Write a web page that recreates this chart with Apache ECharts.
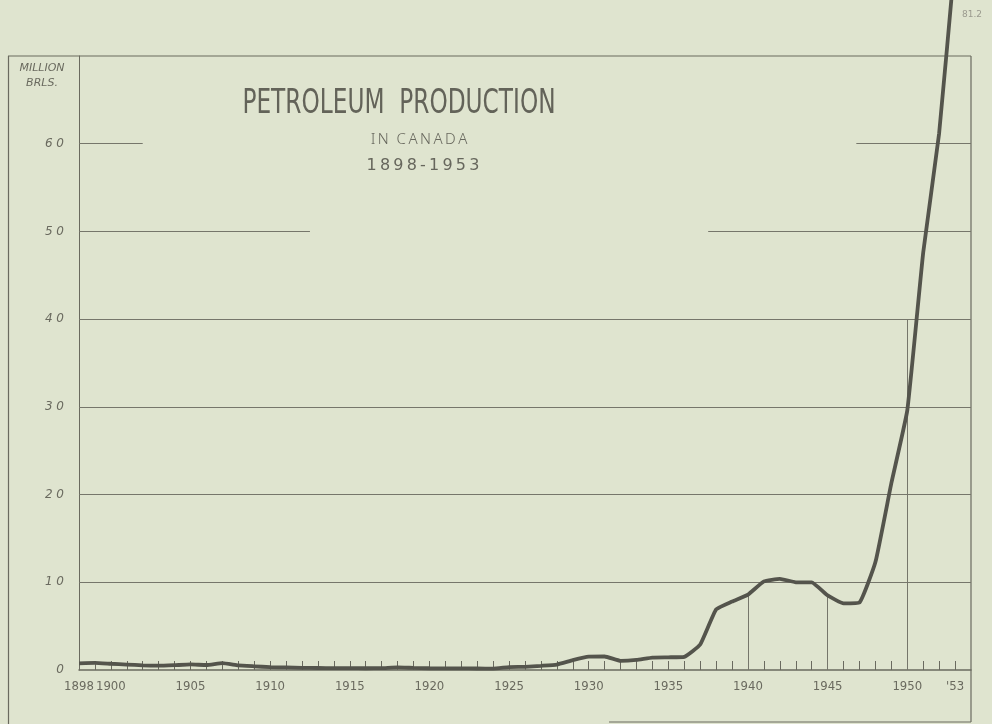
<!DOCTYPE html>
<html>
<head>
<meta charset="utf-8">
<script src="https://cdn.jsdelivr.net/npm/echarts@6/dist/echarts.min.js"></script>
<style>
  html, body { margin: 0; padding: 0; background: #dfe4cf; }
  #chart { width: 992px; height: 724px; }
</style>
</head>
<body>
<div id="chart"></div>
<script>
// petroleum production in Canada, million barrels
var years = [1898, 1899, 1900, 1901, 1902, 1903, 1904, 1905, 1906, 1907,
  1908, 1909, 1910, 1911, 1912, 1913, 1914, 1915, 1916, 1917,
  1918, 1919, 1920, 1921, 1922, 1923, 1924, 1925, 1926, 1927,
  1928, 1929, 1930, 1931, 1932, 1933, 1934, 1935, 1936, 1937,
  1938, 1939, 1940, 1941, 1942, 1943, 1944, 1945, 1946, 1947,
  1948, 1949, 1950, 1951, 1952, 1953]
var production = [0.76, 0.81, 0.71, 0.62, 0.53, 0.49, 0.55, 0.63, 0.57, 0.79,
  0.53, 0.42, 0.32, 0.29, 0.24, 0.23, 0.21, 0.22, 0.20, 0.21,
  0.30, 0.24, 0.20, 0.19, 0.18, 0.17, 0.16, 0.33, 0.36, 0.48,
  0.62, 1.12, 1.52, 1.54, 1.04, 1.15, 1.42, 1.45, 1.50, 2.90,
  6.90, 7.80, 8.60, 10.1, 10.4, 10.0, 10.0, 8.50, 7.60, 7.70,
  12.3, 21.3, 29.6, 47.6, 61.2, 81.2]
var labelYears = [1898, 1900, 1905, 1910, 1915, 1920, 1925, 1930, 1935, 1940, 1945, 1950, 1953]
var dropYears = [1940, 1945, 1950]
var gridValues = [10, 20, 30, 40]
var lastValueText = '81.2'

var ink = '#6a6a5f'
var lineInk = '#54544c'

var points = years.map(function (y, i) { return [y, production[i]] })
var tickYears = years.filter(function (y) { return y > 1898 && dropYears.indexOf(y) < 0 })

var dropLines = dropYears.map(function (y) {
  var v = production[years.indexOf(y)]
  if (y === 1950) v = 40
  return [{ coord: [y, 0] }, { coord: [y, v] }]
})
var hLines = gridValues.map(function (v) { return { yAxis: v } })
// broken upper rules, as in the scan
var partLines = [
  [{ coord: [1898, 50] }, { coord: [1912.5, 50] }],
  [{ coord: [1937.5, 50] }, { coord: [1954, 50] }],
  [{ coord: [1898, 60] }, { coord: [1902, 60] }],
  [{ coord: [1946.8, 60] }, { coord: [1954, 60] }]
]

var chart = echarts.init(document.getElementById('chart'))
chart.setOption({
  backgroundColor: '#dfe4cf',
  animation: false,
  grid: { left: 79, right: 21, top: 56, bottom: 54 },
  xAxis: {
    type: 'value',
    min: 1898,
    max: 1954,
    splitLine: { show: false },
    axisLine: { show: true, lineStyle: { color: ink, width: 1.5 } },
    axisTick: {
      show: true, inside: true, length: 9, customValues: tickYears,
      lineStyle: { color: ink, width: 1 }
    },
    axisLabel: {
      customValues: labelYears,
      showMinLabel: true,
      margin: 10,
      color: ink,
      fontFamily: 'DejaVu Sans Condensed, DejaVu Sans',
      fontSize: 13,
      formatter: function (v) { return v === 1953 ? "'53" : String(v) }
    }
  },
  yAxis: {
    type: 'value',
    min: 0,
    max: 70,
    interval: 10,
    splitLine: { show: false },
    axisLine: { show: true, lineStyle: { color: ink, width: 1 } },
    axisTick: { show: false },
    axisLabel: {
      margin: 15,
      color: ink,
      fontStyle: 'italic',
      fontFamily: 'DejaVu Sans',
      fontSize: 12,
      formatter: function (v) { return v === 70 ? '' : String(v).split('').join(' ') }
    }
  },
  graphic: [
    { type: 'line', shape: { x1: 8, y1: 56, x2: 971, y2: 56 }, style: { stroke: ink, lineWidth: 1.2 } },
    { type: 'line', shape: { x1: 8.5, y1: 56, x2: 8.5, y2: 724 }, style: { stroke: ink, lineWidth: 1.2 } },
    { type: 'line', shape: { x1: 971, y1: 56, x2: 971, y2: 722 }, style: { stroke: ink, lineWidth: 1.2 } },
    { type: 'line', shape: { x1: 609, y1: 722, x2: 971, y2: 722 }, style: { stroke: ink, lineWidth: 1.2 } },
    { type: 'text', x: 42, y: 68, style: { text: 'MILLION', fill: ink, font: 'italic 11px DejaVu Sans', textAlign: 'center', textVerticalAlign: 'middle' } },
    { type: 'text', x: 42, y: 83, style: { text: 'BRLS.', fill: ink, font: 'italic 11px DejaVu Sans', textAlign: 'center', textVerticalAlign: 'middle' } },
    { type: 'text', x: 399, y: 104, scaleX: 0.76, style: { text: 'PETROLEUM  PRODUCTION', fill: '#636359', font: '34px "Liberation Sans Narrow", "DejaVu Sans Condensed"', textAlign: 'center', textVerticalAlign: 'middle' } },
    { type: 'text', x: 419, y: 140, style: { text: 'I\u2009N  C\u2009A\u2009N\u2009A\u2009D\u2009A', fill: '#68685e', font: '300 15px "Noto Sans", "DejaVu Sans"', textAlign: 'center', textVerticalAlign: 'middle' } },
    { type: 'text', x: 423, y: 166, style: { text: '1\u20098\u20099\u20098\u2009-\u20091\u20099\u20095\u20093', fill: '#66665c', font: '16px "DejaVu Sans"', textAlign: 'center', textVerticalAlign: 'middle' } },
    { type: 'text', x: 962, y: 15, style: { text: lastValueText, fill: '#9a9a8e', font: '9px DejaVu Sans', textAlign: 'left', textVerticalAlign: 'middle' } }
  ],
  series: [{
    type: 'line',
    data: points,
    smooth: 0.12,
    clip: false,
    symbol: 'none',
    lineStyle: { color: lineInk, width: 3.8 },
    z: 5,
    markLine: {
      silent: true,
      symbol: 'none',
      label: { show: false },
      lineStyle: { color: '#76766b', width: 1, type: 'solid' },
      data: hLines.concat(partLines).concat(dropLines)
    }
  }]
})
</script>
</body>
</html>
